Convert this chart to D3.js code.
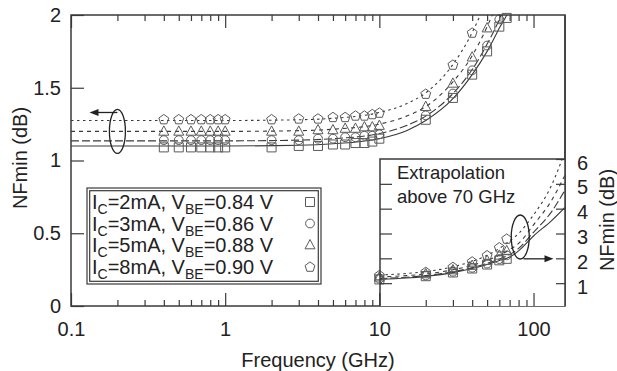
<!DOCTYPE html>
<html>
<head>
<meta charset="utf-8">
<script src="https://cdn.jsdelivr.net/npm/d3@7"></script>
<style>
  body { margin: 0; background: #fff; }
  svg text { font-family: "Liberation Sans", Arial, Helvetica, sans-serif; fill: #222; }
</style>
</head>
<body>
<svg id="chart" width="617" height="371"></svg>
<script>
// measured points (GHz, dB)
const measFreq = [0.4, 0.5, 0.6, 0.7, 0.8, 0.9, 1, 2, 3, 4, 5, 6, 7, 8, 9, 10, 20, 30, 40, 50, 60, 67];
const nfIc2 = [1.09, 1.09, 1.09, 1.09, 1.09, 1.09, 1.09, 1.09, 1.10, 1.10, 1.11, 1.11, 1.12, 1.12, 1.13, 1.15, 1.28, 1.43, 1.59, 1.75, 1.92, 1.98];
const nfIc3 = [1.14, 1.14, 1.14, 1.14, 1.14, 1.14, 1.14, 1.14, 1.14, 1.15, 1.15, 1.16, 1.16, 1.17, 1.17, 1.18, 1.31, 1.46, 1.62, 1.79, 1.97, 2.12];
const nfIc5 = [1.20, 1.20, 1.20, 1.20, 1.20, 1.20, 1.20, 1.20, 1.20, 1.21, 1.21, 1.22, 1.22, 1.23, 1.23, 1.24, 1.37, 1.53, 1.71, 1.91, 2.12, 2.30];
const nfIc8 = [1.285, 1.285, 1.285, 1.285, 1.285, 1.285, 1.285, 1.285, 1.29, 1.29, 1.30, 1.30, 1.31, 1.31, 1.32, 1.33, 1.46, 1.66, 1.88, 2.13, 2.45, 2.80];

// fitted / extrapolated curves
const fitFreq = [0.1, 1, 3, 5, 10, 15, 20, 30, 40, 50, 60, 70, 80, 100, 130, 160];
const fitIc2 = [1.10, 1.10, 1.105, 1.115, 1.15, 1.205, 1.275, 1.425, 1.59, 1.75, 1.91, 2.05, 2.3, 2.9, 3.5, 4.05];
const fitIc3 = [1.135, 1.135, 1.14, 1.15, 1.185, 1.24, 1.305, 1.46, 1.625, 1.80, 1.97, 2.15, 2.4, 3.05, 3.85, 4.75];
const fitIc5 = [1.20, 1.20, 1.205, 1.215, 1.25, 1.305, 1.37, 1.54, 1.72, 1.92, 2.12, 2.35, 2.6, 3.35, 4.3, 5.35];
const fitIc8 = [1.275, 1.275, 1.28, 1.29, 1.33, 1.39, 1.465, 1.66, 1.88, 2.12, 2.4, 2.7, 3.0, 3.75, 4.9, 6.3];

const legendLabels = [
  ['2mA', '0.84'],
  ['3mA', '0.86'],
  ['5mA', '0.88'],
  ['8mA', '0.90']
];
const xMajorTicks = [0.1, 1, 10, 100];
const xTickLabels = ['0.1', '1', '10', '100'];
const yTicks = [0, 0.5, 1, 1.5, 2];
const yInsetTicks = [1, 2, 3, 4, 5, 6];

const series = [
  { meas: nfIc2, fit: fitIc2, marker: 'square', dash: null },
  { meas: nfIc3, fit: fitIc3, marker: 'circle', dash: '8,3' },
  { meas: nfIc5, fit: fitIc5, marker: 'triangle', dash: '4,4' },
  { meas: nfIc8, fit: fitIc8, marker: 'pentagon', dash: '2.5,3.5' }
];

const LEFT = 71, RIGHT = 565, TOP = 15, BOTTOM = 306;
const INSET_LEFT = 380, INSET_TOP = 159;
const LINE_COLOR = '#3a3a3a';
const MARK_COLOR = '#5a5a5a';

const svg = d3.select('#chart');
svg.append('rect').attr('width', 617).attr('height', 371).attr('fill', '#fff');

const x = d3.scaleLog().domain([0.1, 160]).range([LEFT, RIGHT]);
const y = d3.scaleLinear().domain([0, 2]).range([BOTTOM, TOP]);
const yIn = d3.scaleLinear().domain([0, 6]).range([308, INSET_TOP]);

function markerPath(type) {
  if (type === 'square') return 'M-4.5,-4.5H4.5V4.5H-4.5Z';
  if (type === 'circle') return d3.arc()({ innerRadius: 0, outerRadius: 4.4, startAngle: 0, endAngle: 2 * Math.PI });
  if (type === 'triangle') return 'M0,-5.5L5,3.8L-5,3.8Z';
  // pentagon
  const pts = d3.range(5).map(i => {
    const a = -Math.PI / 2 + i * 2 * Math.PI / 5;
    return [5.2 * Math.cos(a), 5.2 * Math.sin(a) + 0.6];
  });
  return 'M' + pts.map(p => p.join(',')).join('L') + 'Z';
}

const defs = svg.append('defs');
defs.append('clipPath').attr('id', 'clip-main')
  .append('rect').attr('x', LEFT).attr('y', TOP).attr('width', RIGHT - LEFT).attr('height', BOTTOM - TOP);
defs.append('clipPath').attr('id', 'clip-inset')
  .append('rect').attr('x', INSET_LEFT).attr('y', INSET_TOP).attr('width', RIGHT - INSET_LEFT).attr('height', BOTTOM - INSET_TOP);

// ---------- main panel ----------
const main = svg.append('g');

const lineMain = d3.line()
  .x(d => x(d[0]))
  .y(d => y(d[1]))
  .curve(d3.curveMonotoneX);

main.append('g').attr('clip-path', 'url(#clip-main)')
  .selectAll('path')
  .data(series)
  .enter()
  .append('path')
  .attr('d', s => lineMain(fitFreq.map((f, i) => [f, s.fit[i]])))
  .attr('fill', 'none')
  .attr('stroke', LINE_COLOR)
  .attr('stroke-width', 1.1)
  .attr('stroke-dasharray', s => s.dash);

series.forEach(s => {
  main.append('g')
    .selectAll('path')
    .data(measFreq.map((f, i) => [f, s.meas[i]]).filter(d => d[1] <= 2))
    .enter()
    .append('path')
    .attr('d', markerPath(s.marker))
    .attr('transform', d => `translate(${x(d[0])},${y(d[1])})`)
    .attr('fill', 'none')
    .attr('stroke', MARK_COLOR)
    .attr('stroke-width', 1);
});

// axes: ticks point inward
const xMinor = [];
[0.1, 1, 10, 100].forEach(dec => {
  for (let k = 2; k <= 9; k++) {
    const v = dec * k;
    if (v <= 160) xMinor.push(v);
  }
});

main.append('g').attr('transform', `translate(0,${BOTTOM})`)
  .call(d3.axisBottom(x).tickValues(xMajorTicks).tickSize(-13).tickPadding(16)
    .tickFormat((d, i) => xTickLabels[i]))
  .call(g => g.select('.domain').remove());
main.append('g').attr('transform', `translate(0,${BOTTOM})`)
  .call(d3.axisBottom(x).tickValues(xMinor).tickSize(-6).tickFormat(''))
  .call(g => g.select('.domain').remove());
main.append('g').attr('transform', `translate(0,${TOP})`)
  .call(d3.axisTop(x).tickValues(xMajorTicks).tickSize(-13).tickFormat(''))
  .call(g => g.select('.domain').remove());
main.append('g').attr('transform', `translate(0,${TOP})`)
  .call(d3.axisTop(x).tickValues(xMinor).tickSize(-6).tickFormat(''))
  .call(g => g.select('.domain').remove());
main.append('g').attr('transform', `translate(${LEFT},0)`)
  .call(d3.axisLeft(y).tickValues(yTicks).tickSize(-13).tickPadding(10)
    .tickFormat(d3.format('')))
  .call(g => g.select('.domain').remove());

main.selectAll('.tick line').attr('stroke', LINE_COLOR).attr('stroke-width', 1.2);
main.selectAll('.tick text').attr('font-size', 20).attr('font-family', null).attr('fill', '#222');

main.append('rect')
  .attr('x', LEFT).attr('y', TOP)
  .attr('width', RIGHT - LEFT).attr('height', BOTTOM - TOP)
  .attr('fill', 'none').attr('stroke', LINE_COLOR).attr('stroke-width', 1.5);

// ellipse + arrow pointing to the left axis
main.append('ellipse')
  .attr('cx', x(0.2)).attr('cy', y(1.2)).attr('rx', 8).attr('ry', 22)
  .attr('fill', 'none').attr('stroke', '#222').attr('stroke-width', 1.3);
main.append('line')
  .attr('x1', x(0.2)).attr('y1', y(1.33)).attr('x2', x(0.14)).attr('y2', y(1.33))
  .attr('stroke', '#222').attr('stroke-width', 1.3);
main.append('path')
  .attr('d', `M${x(0.14) - 4},${y(1.33)}l9,-3.5l0,7z`)
  .attr('fill', '#222');

// legend
const legend = main.append('g');
legend.append('rect').attr('x', 87).attr('y', 188).attr('width', 234).attr('height', 96)
  .attr('fill', '#fff').attr('stroke', LINE_COLOR).attr('stroke-width', 1.2);
legend.append('rect').attr('x', 89.7).attr('y', 190.7).attr('width', 228.6).attr('height', 90.6)
  .attr('fill', 'none').attr('stroke', LINE_COLOR).attr('stroke-width', 1.2);

legendLabels.forEach((lab, i) => {
  const cy = 202 + i * 21.5;
  const t = legend.append('text').attr('x', 92).attr('y', cy + 7).attr('font-size', 20);
  t.append('tspan').text('I');
  t.append('tspan').attr('font-size', 14).attr('dy', 5).text('C');
  t.append('tspan').attr('dy', -5).text(`=${lab[0]}, V`);
  t.append('tspan').attr('font-size', 14).attr('dy', 5).text('BE');
  t.append('tspan').attr('dy', -5).text(`=${lab[1]} V`);
  legend.append('path')
    .attr('d', markerPath(series[i].marker))
    .attr('transform', `translate(310,${cy})`)
    .attr('fill', 'none').attr('stroke', MARK_COLOR).attr('stroke-width', 1);
});

// ---------- inset: extrapolation ----------
const inset = svg.append('g');
inset.append('rect')
  .attr('x', INSET_LEFT).attr('y', INSET_TOP)
  .attr('width', RIGHT - INSET_LEFT).attr('height', BOTTOM - INSET_TOP)
  .attr('fill', '#fff');

const lineInset = d3.line()
  .x(d => x(d[0]))
  .y(d => yIn(d[1]))
  .curve(d3.curveMonotoneX);

inset.append('g').attr('clip-path', 'url(#clip-inset)')
  .selectAll('path')
  .data(series)
  .enter()
  .append('path')
  .attr('d', s => lineInset(fitFreq.map((f, i) => [f, s.fit[i]]).filter(d => d[0] >= 10)))
  .attr('fill', 'none')
  .attr('stroke', LINE_COLOR)
  .attr('stroke-width', 1.1)
  .attr('stroke-dasharray', s => s.dash);

series.forEach(s => {
  inset.append('g')
    .selectAll('path')
    .data(measFreq.map((f, i) => [f, s.meas[i]]).filter(d => d[0] >= 10))
    .enter()
    .append('path')
    .attr('d', markerPath(s.marker))
    .attr('transform', d => `translate(${x(d[0])},${yIn(d[1])})`)
    .attr('fill', 'none')
    .attr('stroke', MARK_COLOR)
    .attr('stroke-width', 1);
});

inset.append('g').attr('transform', `translate(0,${BOTTOM})`)
  .call(d3.axisBottom(x).tickValues([10, 100]).tickSize(-13).tickFormat(''))
  .call(g => g.select('.domain').remove());
inset.append('g').attr('transform', `translate(0,${BOTTOM})`)
  .call(d3.axisBottom(x).tickValues(xMinor.filter(v => v > 10)).tickSize(-6).tickFormat(''))
  .call(g => g.select('.domain').remove());
inset.append('g').attr('transform', `translate(${INSET_LEFT},0)`)
  .call(d3.axisLeft(yIn).tickValues(yInsetTicks.slice(0, 5)).tickSize(-12).tickFormat(''))
  .call(g => g.select('.domain').remove());
inset.append('g').attr('transform', `translate(${RIGHT},0)`)
  .call(d3.axisRight(yIn).tickValues(yInsetTicks).tickSize(-9).tickPadding(12)
    .tickFormat(d3.format('d')))
  .call(g => g.select('.domain').remove());

inset.selectAll('.tick line').attr('stroke', LINE_COLOR).attr('stroke-width', 1.2);
inset.selectAll('.tick text').attr('font-size', 20).attr('font-family', null).attr('fill', '#222')
  .attr('dy', '0.5em');

inset.append('path')
  .attr('d', `M${INSET_LEFT},${BOTTOM}V${INSET_TOP}H${RIGHT}`)
  .attr('fill', 'none').attr('stroke', LINE_COLOR).attr('stroke-width', 1.5);
inset.append('line')
  .attr('x1', RIGHT).attr('y1', TOP).attr('x2', RIGHT).attr('y2', BOTTOM)
  .attr('stroke', LINE_COLOR).attr('stroke-width', 1.5);

inset.append('text').attr('x', 397).attr('y', 179).attr('font-size', 18.5).text('Extrapolation');
inset.append('text').attr('x', 397).attr('y', 203).attr('font-size', 18.5).text('above 70 GHz');

// ellipse + arrow pointing to the right axis
inset.append('ellipse')
  .attr('cx', x(82)).attr('cy', yIn(2.86)).attr('rx', 9).attr('ry', 22)
  .attr('fill', 'none').attr('stroke', '#222').attr('stroke-width', 1.3);
inset.append('line')
  .attr('x1', x(86)).attr('y1', yIn(1.98)).attr('x2', x(125)).attr('y2', yIn(1.98))
  .attr('stroke', '#222').attr('stroke-width', 1.3);
inset.append('path')
  .attr('d', `M${x(125) + 5},${yIn(1.98)}l-9,-3.5l0,7z`)
  .attr('fill', '#222');

// ---------- axis titles ----------
svg.append('text')
  .attr('x', 318).attr('y', 367)
  .attr('text-anchor', 'middle').attr('font-size', 20)
  .text('Frequency (GHz)');
svg.append('text')
  .attr('transform', 'translate(27,158) rotate(-90)')
  .attr('text-anchor', 'middle').attr('font-size', 20)
  .text('NFmin (dB)');
svg.append('text')
  .attr('transform', 'translate(614,220) rotate(-90)')
  .attr('text-anchor', 'middle').attr('font-size', 20)
  .text('NFmin (dB)');
</script>
</body>
</html>
